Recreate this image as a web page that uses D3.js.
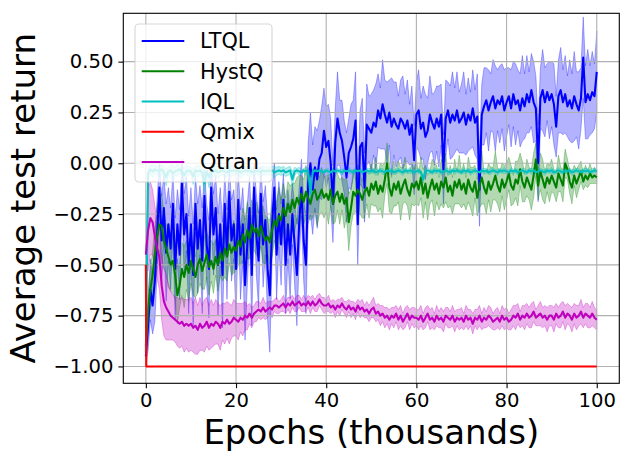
<!DOCTYPE html>
<html>
<head>
<meta charset="utf-8">
<script src="https://cdn.jsdelivr.net/npm/d3@7"></script>
<style>
  body { margin: 0; background: #fff; }
  text { font-family: "DejaVu Sans", sans-serif; font-weight: normal; fill: #000; }
</style>
</head>
<body>
<svg id="chart" width="632" height="462"></svg>
<script>
// epochs in thousands, one sample every 500 steps
var epochs = d3.range(0, 100.001, 0.5);

var ltqlMean = [
  -0.95,-0.8,-0.62,-0.7,-0.58,-0.35,-0.12,-0.38,-0.22,-0.44,-0.3,-0.42,-0.2,-0.52,-0.3,-0.45,-0.1,-0.35,-0.25,-0.5,
  -0.3,-0.55,-0.2,-0.42,-0.28,-0.48,-0.16,-0.4,-0.52,-0.12,-0.35,-0.22,-0.5,-0.3,-0.55,-0.2,-0.45,-0.14,-0.38,-0.3,
  -0.52,-0.18,-0.45,-0.3,-0.6,-0.4,-0.22,-0.55,-0.12,-0.35,-0.48,-0.15,-0.4,-0.28,-0.52,-0.65,-0.3,-0.12,-0.45,-0.25,
  -0.4,-0.18,-0.5,-0.3,-0.45,-0.25,-0.4,-0.55,-0.3,-0.12,-0.38,-0.5,-0.1,0.0,-0.13,-0.02,-0.08,0.02,0.05,0.16,
  0.08,0.11,0.0,-0.2,0.1,0.22,0.15,0.11,0.03,-0.07,0.05,0.08,0.12,0.21,-0.3,0.08,0.1,-0.12,0.19,0.17,
  0.15,0.2,0.18,0.26,0.22,0.29,0.24,0.2,0.25,0.18,0.22,0.19,0.17,0.22,0.2,0.17,0.21,0.14,0.19,0.015,
  0.24,0.26,0.17,0.2,0.13,0.16,0.24,0.2,0.17,0.22,0.18,0.24,-0.03,0.22,0.26,0.2,0.24,0.21,0.26,0.2,
  0.22,0.25,0.19,0.24,0.21,0.27,0.2,0.23,-0.13,0.24,0.28,0.31,0.26,0.3,0.33,0.27,0.31,0.29,0.33,0.26,
  0.3,0.33,0.27,0.34,0.29,0.31,0.26,0.32,0.28,0.34,0.3,0.36,0.3,0.27,0.0,0.32,0.36,0.3,0.35,0.31,
  0.34,0.29,0.18,0.33,0.36,0.3,0.34,0.28,0.31,0.27,0.33,0.29,0.26,0.32,0.52,0.3,0.34,0.31,0.35,0.33,
  0.45
];
var ltqlStd = [
  0.05,0.12,0.15,0.14,0.2,0.18,0.12,0.22,0.16,0.24,0.18,0.2,0.15,0.25,0.17,0.22,0.12,0.2,0.18,0.24,
  0.18,0.25,0.14,0.22,0.17,0.26,0.13,0.2,0.24,0.12,0.2,0.16,0.25,0.18,0.26,0.15,0.22,0.12,0.2,0.17,
  0.24,0.14,0.22,0.18,0.27,0.2,0.15,0.25,0.12,0.2,0.23,0.13,0.21,0.17,0.25,0.28,0.18,0.12,0.22,0.16,
  0.2,0.13,0.24,0.17,0.22,0.15,0.2,0.25,0.18,0.14,0.2,0.24,0.2,0.25,0.22,0.2,0.24,0.19,0.23,0.21,
  0.2,0.18,0.22,0.19,0.17,0.23,0.16,0.2,0.18,0.22,0.17,0.21,0.19,0.24,0.2,0.18,0.22,0.17,0.2,0.16,
  0.19,0.16,0.21,0.18,0.15,0.22,0.17,0.2,0.16,0.24,0.18,0.21,0.16,0.19,0.23,0.17,0.2,0.15,0.19,0.17,
  0.16,0.2,0.15,0.18,0.21,0.16,0.19,0.14,0.18,0.16,0.2,0.15,0.17,0.19,0.14,0.18,0.21,0.16,0.19,0.15,
  0.17,0.2,0.15,0.18,0.14,0.19,0.16,0.21,0.18,0.15,0.19,0.16,0.2,0.14,0.18,0.21,0.15,0.19,0.16,0.2,
  0.17,0.14,0.19,0.16,0.2,0.15,0.18,0.21,0.16,0.19,0.15,0.18,0.2,0.16,0.19,0.15,0.2,0.17,0.14,0.19,
  0.16,0.2,0.15,0.18,0.21,0.16,0.19,0.15,0.2,0.17,0.22,0.16,0.19,0.15,0.2,0.18,0.22,0.17,0.2,0.16,
  0.2
];

var hystqMean = [
  -0.9,-0.72,-0.62,-0.55,-0.45,-0.36,-0.3,-0.31,-0.38,-0.42,-0.46,-0.5,-0.48,-0.55,-0.65,-0.6,-0.52,-0.56,-0.5,-0.54,
  -0.48,-0.52,-0.56,-0.5,-0.47,-0.53,-0.49,-0.45,-0.51,-0.48,-0.52,-0.46,-0.5,-0.44,-0.48,-0.42,-0.46,-0.4,-0.44,-0.41,
  -0.43,-0.38,-0.41,-0.35,-0.39,-0.33,-0.37,-0.3,-0.34,-0.32,-0.36,-0.31,-0.35,-0.38,-0.36,-0.39,-0.33,-0.28,-0.31,-0.26,
  -0.28,-0.22,-0.26,-0.2,-0.24,-0.18,-0.22,-0.17,-0.2,-0.15,-0.19,-0.14,-0.17,-0.2,-0.15,-0.13,-0.18,-0.16,-0.13,-0.17,
  -0.15,-0.18,-0.13,-0.2,-0.16,-0.14,-0.19,-0.15,-0.2,-0.17,-0.29,-0.22,-0.14,-0.16,-0.13,-0.15,-0.18,-0.14,-0.12,-0.16,
  -0.1,-0.13,-0.09,-0.15,-0.11,-0.14,-0.08,0.0,-0.12,-0.16,-0.1,-0.13,-0.09,-0.15,-0.11,-0.08,-0.13,-0.16,-0.1,-0.12,
  -0.09,-0.13,-0.07,-0.15,-0.1,-0.17,-0.12,-0.08,-0.13,-0.1,-0.15,-0.09,-0.12,-0.07,-0.14,-0.11,-0.16,-0.09,-0.12,-0.08,
  -0.13,-0.1,-0.15,-0.08,-0.12,-0.14,-0.09,-0.17,-0.11,-0.07,-0.12,-0.15,-0.09,-0.13,-0.1,-0.06,-0.11,-0.14,-0.08,-0.12,
  -0.09,-0.05,-0.11,-0.13,-0.08,-0.1,-0.03,-0.09,-0.12,-0.07,-0.1,-0.13,-0.06,0.02,-0.11,-0.04,-0.08,-0.12,-0.07,-0.1,
  -0.06,-0.09,-0.12,-0.05,-0.08,-0.11,0.0,-0.03,-0.09,-0.12,-0.06,-0.1,-0.07,-0.04,-0.09,-0.06,-0.08,-0.05,-0.07,-0.06,
  -0.07
];
var hystqStd = [
  0.05,0.08,0.1,0.12,0.14,0.15,0.13,0.16,0.14,0.12,0.15,0.13,0.16,0.12,0.14,0.11,0.13,0.15,0.12,0.14,
  0.11,0.13,0.1,0.14,0.12,0.09,0.13,0.11,0.14,0.1,0.12,0.09,0.13,0.11,0.1,0.14,0.12,0.09,0.11,0.13,
  0.1,0.12,0.09,0.13,0.11,0.14,0.1,0.12,0.09,0.13,0.11,0.1,0.14,0.12,0.09,0.11,0.13,0.1,0.12,0.14,
  0.1,0.12,0.09,0.11,0.13,0.08,0.12,0.1,0.14,0.09,0.11,0.13,0.1,0.08,0.12,0.1,0.13,0.09,0.11,0.1,
  0.09,0.12,0.08,0.1,0.13,0.09,0.11,0.08,0.12,0.1,0.14,0.09,0.11,0.08,0.12,0.1,0.09,0.13,0.08,0.11,
  0.1,0.08,0.12,0.09,0.11,0.13,0.08,0.1,0.12,0.09,0.11,0.08,0.1,0.13,0.09,0.11,0.08,0.12,0.1,0.09,
  0.11,0.08,0.1,0.12,0.09,0.11,0.08,0.1,0.13,0.09,0.08,0.11,0.1,0.12,0.08,0.1,0.09,0.11,0.08,0.12,
  0.09,0.1,0.08,0.11,0.1,0.12,0.08,0.09,0.11,0.13,0.08,0.1,0.09,0.11,0.08,0.12,0.09,0.1,0.08,0.11,
  0.09,0.08,0.1,0.07,0.09,0.11,0.08,0.1,0.07,0.09,0.08,0.1,0.11,0.08,0.07,0.09,0.1,0.08,0.07,0.09,
  0.08,0.06,0.07,0.09,0.06,0.08,0.07,0.05,0.06,0.08,0.05,0.07,0.06,0.05,0.04,0.05,0.04,0.05,0.03,0.04,
  0.03
];

var iqlMean = [
  -0.93,-0.05,-0.03,-0.04,-0.03,-0.035,-0.04,-0.03,-0.045,-0.07,-0.04,-0.035,-0.05,-0.04,-0.035,-0.03,-0.04,-0.06,-0.04,-0.035,
  -0.04,-0.065,-0.035,-0.04,-0.035,-0.045,-0.1,-0.04,-0.07,-0.035,-0.04,-0.035,-0.045,-0.04,-0.035,-0.04,-0.045,-0.035,-0.04,-0.035,
  -0.04,-0.035,-0.045,-0.04,-0.035,-0.04,-0.035,-0.045,-0.04,-0.035,-0.04,-0.045,-0.035,-0.04,-0.035,-0.04,-0.035,-0.045,-0.04,-0.035,
  -0.04,-0.035,-0.045,-0.04,-0.035,-0.08,-0.04,-0.035,-0.04,-0.045,-0.035,-0.04,-0.035,-0.15,-0.045,-0.035,-0.04,-0.035,-0.04,-0.045,
  -0.035,-0.04,-0.045,-0.035,-0.04,-0.035,-0.04,-0.045,-0.035,-0.04,-0.035,-0.04,-0.045,-0.035,-0.04,-0.035,-0.045,-0.04,-0.035,-0.04,
  -0.04,-0.035,-0.045,-0.04,-0.035,-0.04,-0.045,-0.035,-0.04,-0.035,-0.045,-0.04,-0.035,-0.04,-0.045,-0.035,-0.04,-0.035,-0.04,-0.045,
  -0.04,-0.035,-0.045,-0.08,-0.04,-0.035,-0.04,-0.045,-0.035,-0.04,-0.035,-0.045,-0.04,-0.035,-0.04,-0.045,-0.035,-0.04,-0.035,-0.04,
  -0.045,-0.035,-0.04,-0.035,-0.045,-0.04,-0.035,-0.04,-0.045,-0.035,-0.04,-0.035,-0.045,-0.04,-0.035,-0.04,-0.045,-0.035,-0.04,-0.035,
  -0.04,-0.045,-0.035,-0.04,-0.035,-0.045,-0.04,-0.035,-0.04,-0.045,-0.035,-0.04,-0.035,-0.045,-0.04,-0.035,-0.04,-0.045,-0.035,-0.04,
  -0.035,-0.045,-0.04,-0.035,-0.04,-0.045,-0.035,-0.04,-0.035,-0.045,-0.04,-0.035,-0.04,-0.045,-0.035,-0.04,-0.035,-0.045,-0.04,-0.035,
  -0.04
];
var iqlStd = [
  0.03,0.03,0.02,0.03,0.02,0.02,0.03,0.02,0.03,0.04,0.02,0.03,0.04,0.02,0.03,0.02,0.02,0.04,0.03,0.02,
  0.02,0.04,0.02,0.03,0.02,0.03,0.05,0.02,0.05,0.02,0.03,0.02,0.03,0.02,0.02,0.03,0.02,0.02,0.03,0.02,
  0.02,0.02,0.03,0.02,0.02,0.02,0.03,0.02,0.02,0.02,0.02,0.03,0.02,0.02,0.02,0.02,0.02,0.03,0.02,0.02,
  0.02,0.02,0.02,0.02,0.02,0.04,0.02,0.01,0.02,0.01,0.01,0.02,0.01,0.03,0.02,0.01,0.01,0.01,0.01,0.01,
  0.01,0.015,0.01,0.01,0.015,0.01,0.01,0.015,0.01,0.01,0.015,0.01,0.01,0.015,0.01,0.01,0.015,0.01,0.01,0.015,
  0.01,0.01,0.015,0.01,0.01,0.015,0.01,0.01,0.015,0.01,0.01,0.015,0.01,0.01,0.015,0.01,0.01,0.015,0.01,0.01,
  0.015,0.01,0.01,0.02,0.01,0.015,0.01,0.01,0.015,0.01,0.01,0.015,0.01,0.01,0.015,0.01,0.01,0.015,0.01,0.01,
  0.01,0.015,0.01,0.01,0.015,0.01,0.01,0.015,0.01,0.01,0.015,0.01,0.01,0.015,0.01,0.01,0.015,0.01,0.01,0.015,
  0.01,0.01,0.015,0.01,0.01,0.015,0.01,0.01,0.015,0.01,0.01,0.015,0.01,0.01,0.015,0.01,0.01,0.015,0.01,0.01,
  0.015,0.01,0.01,0.015,0.01,0.01,0.015,0.01,0.01,0.015,0.01,0.01,0.015,0.01,0.01,0.015,0.01,0.01,0.015,0.01,
  0.01
];

// Qmix drops straight to -1 and stays there
var qmixEpochs = [0, 0.1, 100];
var qmixMean = [-0.5, -1.0, -1.0];

var qtranMean = [
  -0.45,-0.33,-0.27,-0.29,-0.36,-0.42,-0.46,-0.6,-0.68,-0.71,-0.73,-0.75,-0.76,-0.77,-0.78,-0.79,-0.78,-0.8,-0.79,-0.8,
  -0.79,-0.81,-0.8,-0.82,-0.79,-0.81,-0.8,-0.78,-0.81,-0.79,-0.8,-0.78,-0.79,-0.81,-0.78,-0.79,-0.77,-0.79,-0.78,-0.76,
  -0.77,-0.78,-0.76,-0.77,-0.75,-0.76,-0.74,-0.76,-0.74,-0.73,-0.72,-0.73,-0.71,-0.73,-0.72,-0.71,-0.72,-0.7,-0.7,-0.71,
  -0.7,-0.69,-0.71,-0.69,-0.7,-0.68,-0.7,-0.69,-0.68,-0.7,-0.69,-0.7,-0.68,-0.7,-0.68,-0.7,-0.69,-0.67,-0.69,-0.7,
  -0.7,-0.69,-0.71,-0.7,-0.72,-0.7,-0.71,-0.69,-0.71,-0.72,-0.7,-0.72,-0.71,-0.73,-0.7,-0.72,-0.71,-0.73,-0.72,-0.74,
  -0.72,-0.71,-0.74,-0.73,-0.75,-0.74,-0.76,-0.75,-0.77,-0.75,-0.76,-0.74,-0.77,-0.75,-0.78,-0.76,-0.74,-0.77,-0.75,-0.76,
  -0.76,-0.77,-0.75,-0.78,-0.76,-0.74,-0.77,-0.76,-0.78,-0.75,-0.77,-0.76,-0.78,-0.75,-0.76,-0.77,-0.75,-0.78,-0.76,-0.77,
  -0.76,-0.78,-0.75,-0.77,-0.76,-0.79,-0.76,-0.77,-0.75,-0.78,-0.76,-0.77,-0.75,-0.76,-0.78,-0.77,-0.76,-0.78,-0.75,-0.77,
  -0.76,-0.78,-0.77,-0.75,-0.76,-0.74,-0.77,-0.75,-0.76,-0.74,-0.76,-0.75,-0.73,-0.76,-0.75,-0.74,-0.76,-0.75,-0.77,-0.75,
  -0.75,-0.77,-0.74,-0.76,-0.75,-0.73,-0.76,-0.74,-0.75,-0.77,-0.74,-0.76,-0.75,-0.73,-0.76,-0.74,-0.75,-0.76,-0.74,-0.76,
  -0.77
];
var qtranStd = [
  0.05,0.2,0.18,0.16,0.15,0.15,0.16,0.17,0.17,0.16,0.14,0.12,0.11,0.11,0.12,0.12,0.12,0.13,0.12,0.13,
  0.13,0.12,0.14,0.12,0.13,0.11,0.13,0.12,0.11,0.12,0.1,0.11,0.1,0.11,0.09,0.1,0.09,0.1,0.08,0.09,
  0.08,0.09,0.07,0.08,0.07,0.06,0.05,0.05,0.04,0.05,0.04,0.04,0.05,0.04,0.04,0.03,0.04,0.03,0.04,0.03,
  0.03,0.04,0.03,0.03,0.04,0.03,0.03,0.04,0.03,0.03,0.04,0.03,0.03,0.04,0.03,0.03,0.04,0.03,0.03,0.04,
  0.03,0.04,0.03,0.03,0.04,0.03,0.04,0.03,0.03,0.04,0.03,0.04,0.03,0.04,0.03,0.04,0.04,0.03,0.04,0.04,
  0.04,0.05,0.04,0.04,0.05,0.04,0.05,0.04,0.05,0.04,0.05,0.04,0.05,0.05,0.04,0.05,0.04,0.05,0.04,0.05,
  0.04,0.05,0.05,0.04,0.05,0.04,0.05,0.05,0.04,0.05,0.04,0.05,0.05,0.04,0.05,0.04,0.05,0.05,0.04,0.05,
  0.05,0.04,0.05,0.05,0.04,0.05,0.04,0.05,0.05,0.04,0.05,0.04,0.05,0.05,0.04,0.05,0.05,0.04,0.05,0.05,
  0.05,0.04,0.05,0.05,0.06,0.05,0.04,0.05,0.06,0.05,0.05,0.06,0.05,0.04,0.05,0.06,0.05,0.05,0.06,0.05,
  0.05,0.06,0.05,0.05,0.06,0.05,0.06,0.05,0.05,0.06,0.05,0.06,0.05,0.06,0.05,0.05,0.06,0.05,0.06,0.05,
  0.05
];

var xTicks = [0, 20, 40, 60, 80, 100];
var yTicks = [-1.0, -0.75, -0.5, -0.25, 0.0, 0.25, 0.5];

var series = [
  {name: "LTQL",  color: "#0000ff", epochs: epochs,     mean: ltqlMean,  std: ltqlStd},
  {name: "HystQ", color: "#008000", epochs: epochs,     mean: hystqMean, std: hystqStd},
  {name: "IQL",   color: "#00bfbf", epochs: epochs,     mean: iqlMean,   std: iqlStd},
  {name: "Qmix",  color: "#ff0000", epochs: qmixEpochs, mean: qmixMean,  std: null},
  {name: "Qtran", color: "#bf00bf", epochs: epochs,     mean: qtranMean, std: qtranStd}
];

var svg = d3.select("#chart");
var plotLeft = 123.3, plotRight = 619.3, plotTop = 13.3, plotBottom = 383.3;

var x = d3.scaleLinear().domain([-5, 105]).range([plotLeft, plotRight]);
var y = d3.scaleLinear().domain([-1.083, 0.738]).range([plotBottom, plotTop]);

svg.append("defs").append("clipPath").attr("id", "plotclip")
   .append("rect")
   .attr("x", plotLeft).attr("y", plotTop)
   .attr("width", plotRight - plotLeft).attr("height", plotBottom - plotTop);

function rows(s) {
  var n = Math.min(s.epochs.length, s.mean.length, s.std ? s.std.length : Infinity);
  return d3.range(n).map(function(i) {
    return {x: s.epochs[i], m: s.mean[i], s: s.std ? s.std[i] : 0};
  });
}

var plot = svg.append("g").attr("clip-path", "url(#plotclip)");

// std bands first (they sit under the grid like matplotlib's fill_between)
var band = d3.area()
  .x(function(d) { return x(d.x); })
  .y0(function(d) { return y(d.m - d.s); })
  .y1(function(d) { return y(d.m + d.s); });

series.forEach(function(s) {
  if (!s.std) return;
  plot.append("path")
      .datum(rows(s))
      .attr("d", band)
      .attr("fill", s.color)
      .attr("fill-opacity", 0.3)
      .attr("stroke", s.color)
      .attr("stroke-opacity", 0.3)
      .attr("stroke-width", 1);
});

// grid
var grid = svg.append("g");
xTicks.forEach(function(t) {
  grid.append("line")
      .attr("x1", x(t)).attr("x2", x(t))
      .attr("y1", plotTop).attr("y2", plotBottom)
      .attr("stroke", "#b0b0b0").attr("stroke-width", 1.1);
});
yTicks.forEach(function(t) {
  grid.append("line")
      .attr("x1", plotLeft).attr("x2", plotRight)
      .attr("y1", y(t)).attr("y2", y(t))
      .attr("stroke", "#b0b0b0").attr("stroke-width", 1.1);
});

var lines = svg.append("g").attr("clip-path", "url(#plotclip)");
var meanLine = d3.line()
  .x(function(d) { return x(d.x); })
  .y(function(d) { return y(d.m); });

series.forEach(function(s) {
  lines.append("path")
       .datum(rows(s))
       .attr("d", meanLine)
       .attr("fill", "none")
       .attr("stroke", s.color)
       .attr("stroke-width", 2.08)
       .attr("stroke-linejoin", "round");
});

// axes
var fmt = d3.format(".2f");
var xAxis = svg.append("g")
  .attr("transform", "translate(0," + plotBottom + ")")
  .call(d3.axisBottom(x).tickValues(xTicks).tickSize(4.9).tickPadding(4.9));
var yAxis = svg.append("g")
  .attr("transform", "translate(" + plotLeft + ",0)")
  .call(d3.axisLeft(y).tickValues(yTicks).tickFormat(fmt).tickSize(4.9).tickPadding(4.9));

[xAxis, yAxis].forEach(function(a) {
  a.attr("font-family", null).attr("font-size", null);
  a.select(".domain").remove();
  a.selectAll(".tick line").attr("stroke", "#000").attr("stroke-width", 1.1);
  a.selectAll(".tick text")
   .attr("fill", "#000")
   .style("font-family", "'DejaVu Sans', sans-serif")
   .style("font-weight", "normal")
   .style("font-size", "19.6px");
});

svg.append("rect")
   .attr("x", plotLeft).attr("y", plotTop)
   .attr("width", plotRight - plotLeft).attr("height", plotBottom - plotTop)
   .attr("fill", "none").attr("stroke", "#000").attr("stroke-width", 1.1);

svg.append("text")
   .attr("x", (plotLeft + plotRight) / 2)
   .attr("y", 444)
   .attr("text-anchor", "middle")
   .style("font-size", "34px")
   .text("Epochs (thousands)");

svg.append("text")
   .attr("transform", "translate(35," + (plotTop + plotBottom) / 2 + ") rotate(-90)")
   .attr("text-anchor", "middle")
   .style("font-size", "34px")
   .text("Average test return");

// legend
var legend = svg.append("g");
legend.append("rect")
      .attr("x", 135).attr("y", 24)
      .attr("width", 137).attr("height", 158)
      .attr("rx", 4).attr("ry", 4)
      .attr("fill", "#fff").attr("fill-opacity", 0.8)
      .attr("stroke", "#cccccc").attr("stroke-opacity", 0.8)
      .attr("stroke-width", 1.1);

series.forEach(function(s, i) {
  var ly = 41 + i * 30.25;
  legend.append("line")
        .attr("x1", 141.7).attr("x2", 184.3)
        .attr("y1", ly).attr("y2", ly)
        .attr("stroke", s.color).attr("stroke-width", 2.08);
  legend.append("text")
        .attr("x", 200).attr("y", ly + 7.3)
        .style("font-size", "20.8px")
        .text(s.name);
});
</script>
</body>
</html>
